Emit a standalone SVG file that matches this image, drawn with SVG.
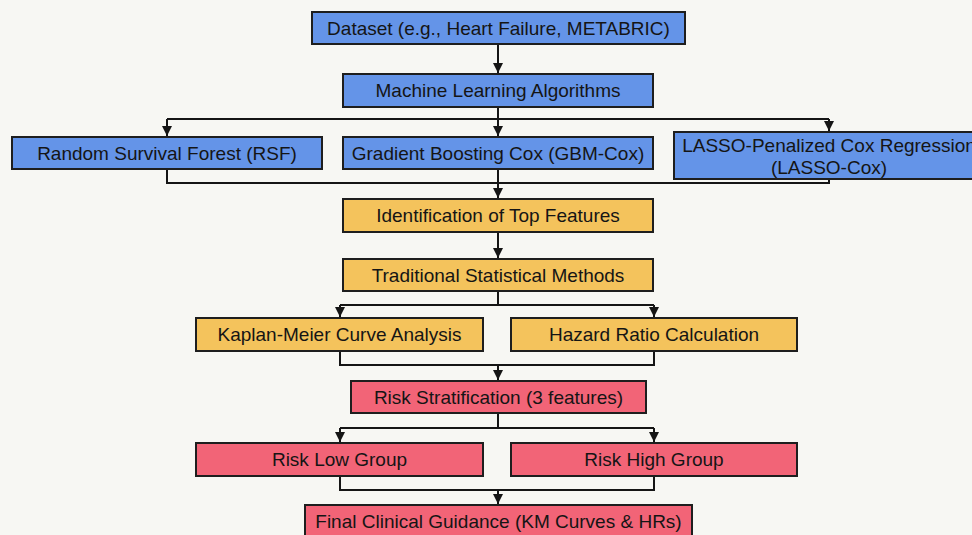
<svg xmlns="http://www.w3.org/2000/svg" width="972" height="535" viewBox="0 0 972 535">
<style>
.bg{fill:#f7f7f3}
.box{stroke:#1e1e1e;stroke-width:2}
.blue{fill:#6494e8}
.yel{fill:#f4c35c}
.red{fill:#f26477}
.t{font-family:"Liberation Sans",Arial,sans-serif;font-size:19px;fill:#151515;text-anchor:middle;dominant-baseline:central}
.c{fill:none;stroke:#151515;stroke-width:2}
</style>
<defs>
<marker id="ah" markerUnits="userSpaceOnUse" markerWidth="12" markerHeight="12" refX="10" refY="6" orient="auto">
<path d="M0,1 L10,6 L0,11 z" fill="#151515"/>
</marker>
</defs>
<rect class="bg" x="0" y="0" width="972" height="535"/>
<g id="connectors">
<path class="c" d="M498,44 V73" marker-end="url(#ah)"/>
<path class="c" d="M498,107 V119 M167,119 H829"/>
<path class="c" d="M167,119 V136" marker-end="url(#ah)"/>
<path class="c" d="M498,119 V136" marker-end="url(#ah)"/>
<path class="c" d="M829,119 V131" marker-end="url(#ah)"/>
<path class="c" d="M167,169 V183 H829 V179"/>
<path class="c" d="M498,169 V198" marker-end="url(#ah)"/>
<path class="c" d="M498,232 V258" marker-end="url(#ah)"/>
<path class="c" d="M498,291 V305 M340,305 H654"/>
<path class="c" d="M340,305 V317" marker-end="url(#ah)"/>
<path class="c" d="M654,305 V317" marker-end="url(#ah)"/>
<path class="c" d="M340,351 V365 H654 V351"/>
<path class="c" d="M498,365 V380" marker-end="url(#ah)"/>
<path class="c" d="M498,413 V428 M340,428 H654"/>
<path class="c" d="M340,428 V442" marker-end="url(#ah)"/>
<path class="c" d="M654,428 V442" marker-end="url(#ah)"/>
<path class="c" d="M340,476 V490 H654 V476"/>
<path class="c" d="M498,490 V504" marker-end="url(#ah)"/>
</g>
<g id="dataset"><rect class="box blue" x="312" y="12" width="373" height="32"/><text class="t" x="498.5" y="28">Dataset (e.g., Heart Failure, METABRIC)</text></g>
<g id="ml"><rect class="box blue" x="343" y="74" width="310" height="33"/><text class="t" x="498" y="90.5">Machine Learning Algorithms</text></g>
<g id="rsf"><rect class="box blue" x="12" y="137" width="310" height="32"/><text class="t" x="167" y="153">Random Survival Forest (RSF)</text></g>
<g id="gbm"><rect class="box blue" x="343" y="137" width="310" height="32"/><text class="t" x="498" y="153">Gradient Boosting Cox (GBM-Cox)</text></g>
<g id="lasso"><rect class="box blue" x="674" y="132" width="310" height="47"/><text class="t" x="829" y="145">LASSO-Penalized Cox Regression</text><text class="t" x="829" y="167">(LASSO-Cox)</text></g>
<g id="topfeat"><rect class="box yel" x="343" y="199" width="310" height="33"/><text class="t" x="498" y="215.5">Identification of Top Features</text></g>
<g id="trad"><rect class="box yel" x="343" y="259" width="310" height="32"/><text class="t" x="498" y="275">Traditional Statistical Methods</text></g>
<g id="km"><rect class="box yel" x="196" y="318" width="287" height="33"/><text class="t" x="339.5" y="334.5">Kaplan-Meier Curve Analysis</text></g>
<g id="hr"><rect class="box yel" x="511" y="318" width="286" height="33"/><text class="t" x="654" y="334.5">Hazard Ratio Calculation</text></g>
<g id="strat"><rect class="box red" x="351" y="381" width="295" height="32"/><text class="t" x="498.5" y="397">Risk Stratification (3 features)</text></g>
<g id="low"><rect class="box red" x="196" y="443" width="287" height="33"/><text class="t" x="339.5" y="459.5">Risk Low Group</text></g>
<g id="high"><rect class="box red" x="511" y="443" width="286" height="33"/><text class="t" x="654" y="459.5">Risk High Group</text></g>
<g id="final"><rect class="box red" x="305" y="505" width="387" height="40"/><text class="t" x="498.5" y="521">Final Clinical Guidance (KM Curves &amp; HRs)</text></g>
</svg>
